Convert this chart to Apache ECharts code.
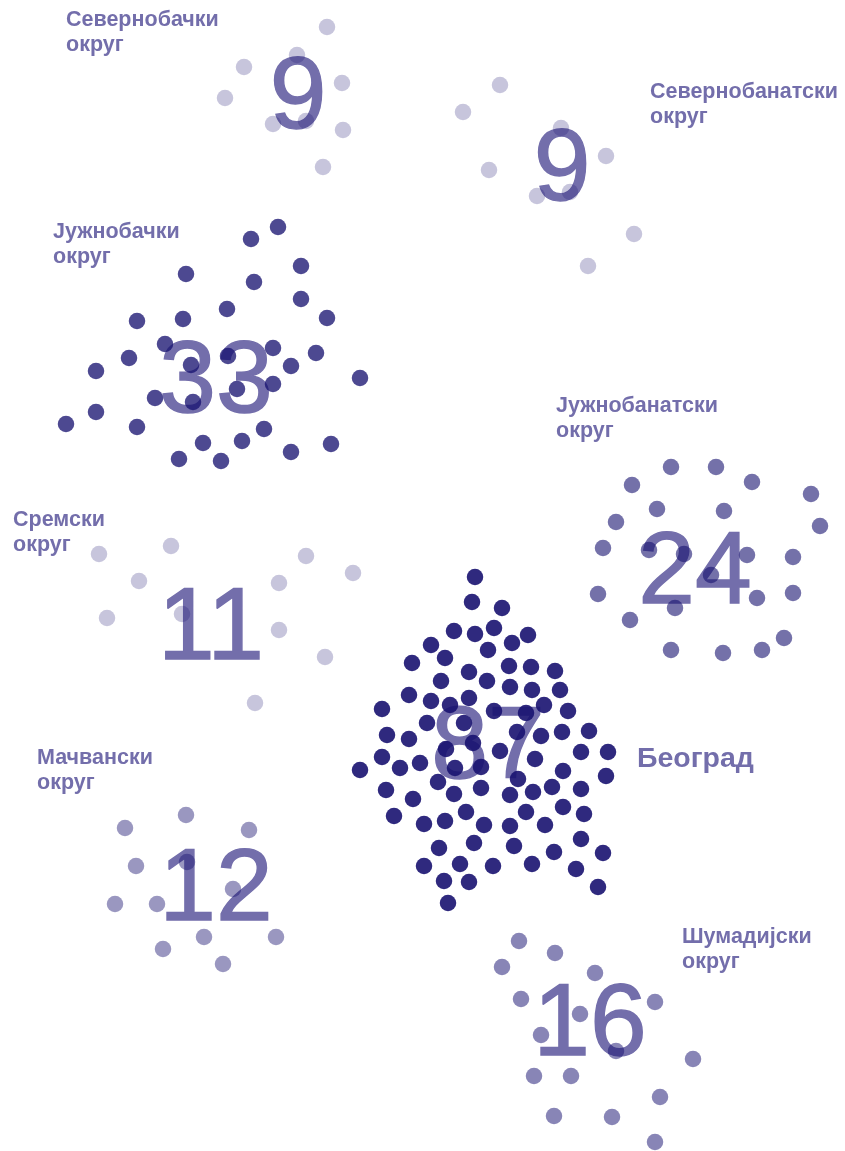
<!DOCTYPE html>
<html>
<head>
<meta charset="utf-8">
<script src="https://cdn.jsdelivr.net/npm/echarts@6/dist/echarts.min.js"></script>
<style>
  html, body { margin: 0; padding: 0; background: #fff; }
  #chart { width: 845px; height: 1151px; }
</style>
</head>
<body>
<div id="chart"></div>
<script>
  // округи, број и натпис
  const regionKeys = ['sb', 'sbn', 'jb', 'jbn', 'srem', 'bg', 'mac', 'sum'];
  const regionLabels = [
    'Севернобачки\nокруг', 'Севернобанатски\nокруг', 'Јужнобачки\nокруг', 'Јужнобанатски\nокруг',
    'Сремски\nокруг', 'Београд', 'Мачвански\nокруг', 'Шумадијски\nокруг'
  ];
  const regionCounts = [9, 9, 33, 24, 11, 87, 12, 16];

  // тачке (x, y) у координатама слике
  const dotsSb = [[327,27],[297,55],[244,67],[342,83],[225,98],[273,124],[306,121],[343,130],[323,167]];
  const dotsSbn = [[500,85],[463,112],[561,128],[606,156],[489,170],[537,196],[570,192],[634,234],[588,266]];
  const dotsJb = [
    [278,227],[251,239],[301,266],[186,274],[254,282],[301,299],[227,309],[137,321],[183,319],[327,318],
    [165,344],[273,348],[316,353],[129,358],[191,365],[228,356],[291,366],[96,371],[360,378],[273,384],
    [237,389],[155,398],[193,402],[96,412],[66,424],[137,427],[264,429],[203,443],[242,441],[331,444],
    [291,452],[179,459],[221,461]
  ];
  const dotsJbn = [
    [671,467],[716,467],[632,485],[752,482],[811,494],[657,509],[724,511],[616,522],[820,526],[603,548],
    [649,550],[684,554],[747,555],[793,557],[711,575],[598,594],[757,598],[793,593],[675,608],[630,620],
    [784,638],[671,650],[723,653],[762,650]
  ];
  const dotsSrem = [[99,554],[171,546],[139,581],[107,618],[182,614],[279,583],[306,556],[353,573],[279,630],[325,657],[255,703]];
  const dotsBg = [
    [475,577],[472,602],[502,608],[454,631],[475,634],[494,628],[528,635],[512,643],[431,645],[488,650],
    [445,658],[412,663],[509,666],[531,667],[555,671],[469,672],[441,681],[487,681],[510,687],[532,690],
    [560,690],[409,695],[431,701],[469,698],[450,705],[544,705],[494,711],[526,713],[568,711],[382,709],
    [427,723],[464,723],[387,735],[409,739],[473,743],[517,732],[541,736],[562,732],[589,731],
    [446,749],[500,751],[535,759],[581,752],[608,752],[382,757],[420,763],[400,768],[455,768],[481,767],
    [360,770],[563,771],[606,776],[518,779],[438,782],[386,790],[481,788],[552,787],[581,789],[454,794],
    [533,792],[510,795],[413,799],[563,807],[466,812],[526,812],[584,814],[394,816],[445,821],[424,824],
    [484,825],[510,826],[545,825],[581,839],[474,843],[439,848],[514,846],[554,852],[603,853],[424,866],
    [460,864],[493,866],[532,864],[576,869],[444,881],[469,882],[598,887],[448,903]
  ];
  const dotsMac = [[186,815],[125,828],[249,830],[136,866],[187,862],[233,889],[115,904],[157,904],[204,937],[276,937],[163,949],[223,964]];
  const dotsSum = [
    [519,941],[555,953],[502,967],[595,973],[521,999],[655,1002],[580,1014],[541,1035],
    [616,1051],[693,1059],[534,1076],[571,1076],[660,1097],[554,1116],[612,1117],[655,1142]
  ];
  const regionDots = [dotsSb, dotsSbn, dotsJb, dotsJbn, dotsSrem, dotsBg, dotsMac, dotsSum];

  // средиште великог броја и горњи леви угао натписа
  const numberPos = [[298,93],[562,165],[216,377],[695,568],[211,624],[488,743],[216,885],[590,1020]];
  const labelPos = [[66,8],[650,80],[53,220],[556,394],[13,508],[637,743],[37,746],[682,925]];

  /** провидност тачака по округу */
  const dotOpacity = { sb: 0.245, sbn: 0.245, jb: 0.77, jbn: 0.6, srem: 0.245, bg: 0.9, mac: 0.44, sum: 0.515 };
  const baseColor = 'rgb(24,18,112)';
  const textColor = '#736eab';
  const fontFamily = '"Liberation Sans", Arial, sans-serif';

  const chart = echarts.init(document.getElementById('chart'));

  const dotSeries = regionKeys.map((key, i) => ({
    name: key,
    type: 'scatter',
    z: 3,
    silent: true,
    symbol: 'circle',
    symbolSize: 16.5,
    itemStyle: { color: baseColor, opacity: dotOpacity[key] },
    data: regionDots[i],
  }));

  const numberSeries = {
    type: 'scatter',
    z: 2,
    silent: true,
    symbolSize: 0,
    itemStyle: { opacity: 1 },
    data: numberPos,
    label: {
      show: true,
      position: 'inside',
      align: 'center',
      verticalAlign: 'middle',
      offset: [0, 7],
      formatter: (p) => String(regionCounts[p.dataIndex]),
      fontFamily,
      fontSize: 102,
      color: textColor,
      textBorderWidth: 1.4,
      textBorderColor: textColor,
    },
  };

  const labelSeries = {
    type: 'scatter',
    z: 4,
    silent: true,
    symbolSize: 0,
    itemStyle: { opacity: 1 },
    data: labelPos.map((p, i) => i === 5
      ? { value: p, label: { fontSize: 28.5, lineHeight: 33 } }
      : { value: p }),
    label: {
      show: true,
      position: 'inside',
      align: 'left',
      verticalAlign: 'top',
      formatter: (p) => regionLabels[p.dataIndex],
      fontFamily,
      fontWeight: 'bold',
      fontSize: 21.5,
      lineHeight: 25,
      color: textColor,
      textBorderWidth: 0,
      textBorderColor: 'transparent',
    },
  };

  chart.setOption({
    animation: false,
    backgroundColor: '#ffffff',
    grid: { left: 0, right: 0, top: 0, bottom: 0 },
    xAxis: { type: 'value', min: 0, max: 845, show: false },
    yAxis: { type: 'value', min: 0, max: 1151, inverse: true, show: false },
    series: [numberSeries, ...dotSeries, labelSeries],
  });
</script>
</body>
</html>
